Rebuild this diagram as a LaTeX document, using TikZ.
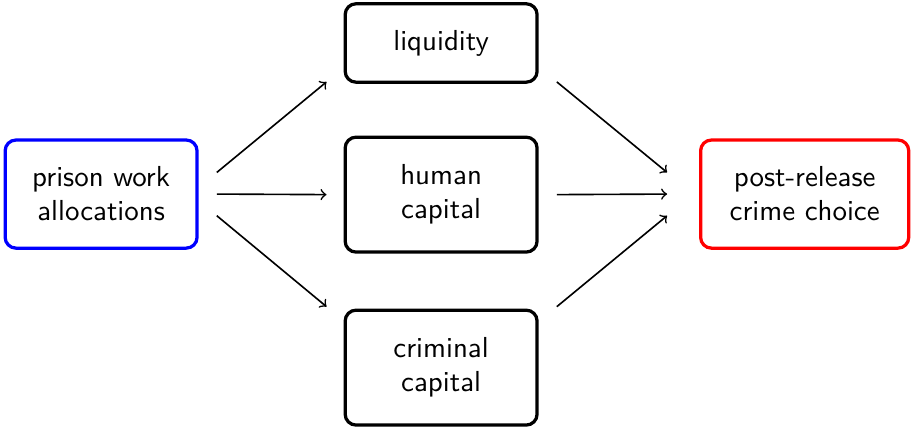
\documentclass[tikz,border=0pt]{standalone}
\usetikzlibrary{calc}
\tikzset{
    box/.style={draw, very thick, rounded corners=4pt, align=center,
        font=\sffamily\fontsize{10.7}{12.6}\selectfont,
        minimum width=71pt, minimum height=40pt, inner sep=2pt},
    link/.style={->, semithick}
}
\begin{document}
\begin{tikzpicture}

    \useasboundingbox (0pt,0pt) rectangle (337.4pt,-158pt);

    % Boxes
    \node[box, draw=blue] (work) at (37.4pt,-71.8pt) {prison work\\allocations};
    \node[box, minimum height=29pt] (liq) at (163.2pt,-15.9pt) {liquidity};
    \node[box, minimum height=42.5pt] (human) at (163.2pt,-72pt) {human\\capital};
    \node[box, minimum height=42.5pt] (crim) at (163.2pt,-136pt) {criminal\\capital};
    \node[box, draw=red, minimum width=77pt] (crime) at (297.7pt,-71.8pt) {post-release\\crime choice};

    % Channels in
    \draw[link] ($(work.east)+(6.7pt,8pt)$) -- ($(liq.south west)+(-6.3pt,0.7pt)$);
    \draw[link] ($(work.east)+(6.7pt,0pt)$) -- ($(human.west)+(-6.3pt,0pt)$);
    \draw[link] ($(work.east)+(6.7pt,-8pt)$) -- ($(crim.north west)+(-6.3pt,0.7pt)$);

    % Channels out
    \draw[link] ($(liq.south east)+(6.7pt,0.7pt)$) -- ($(crime.west)+(-11.8pt,8pt)$);
    \draw[link] ($(human.east)+(6.7pt,0pt)$) -- ($(crime.west)+(-11.8pt,0pt)$);
    \draw[link] ($(crim.north east)+(6.7pt,0.7pt)$) -- ($(crime.west)+(-11.8pt,-8pt)$);

\end{tikzpicture}
\end{document}
